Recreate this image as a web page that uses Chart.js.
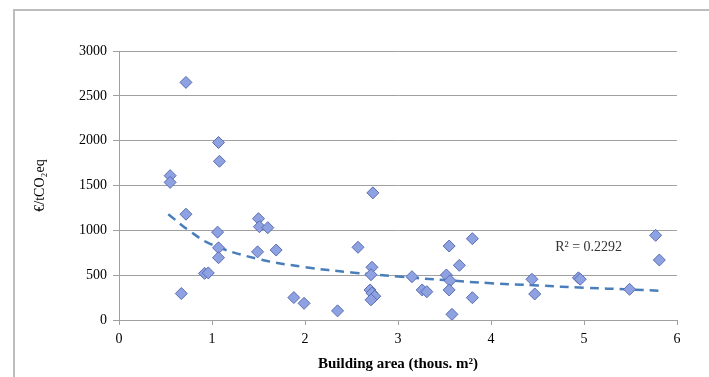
<!DOCTYPE html>
<html>
<head>
<meta charset="utf-8">
<script src="https://cdn.jsdelivr.net/npm/chart.js@4"></script>
<style>
  html, body { margin: 0; padding: 0; background: #fff; }
  #wrap { width: 709px; height: 377px; position: relative; }
</style>
</head>
<body>
<div id="wrap"><canvas id="costChart" width="709" height="377"></canvas></div>
<script>
// building area (thous. m2) vs cost (EUR / tCO2eq)
const areaX = [0.72, 1.07, 1.08, 0.55, 0.55, 0.72, 0.67, 1.06, 1.07, 1.07, 0.92, 0.96,
  1.50, 1.51, 1.60, 1.49, 1.69, 1.88, 1.99, 2.35, 2.57, 2.73, 2.72, 2.71,
  2.70, 2.72, 2.75, 2.71, 3.15, 3.26, 3.31, 3.55, 3.80, 3.66, 3.52, 3.56,
  3.55, 3.80, 3.58, 4.44, 4.47, 4.94, 4.96, 5.49, 5.77, 5.81];
const costY = [2650, 1980, 1770, 1610, 1535, 1180, 295, 980, 805, 695, 520, 525,
  1130, 1040, 1030, 760, 780, 250, 186, 102, 811, 1418, 588, 505,
  335, 300, 265, 225, 483, 335, 316, 825, 907, 610, 502, 438,
  335, 249, 63, 454, 290, 470, 455, 342, 944, 669];

// dashed trend line
const trendX = [0.53, 0.75, 1.0, 1.5, 2.0, 2.5, 3.0, 3.5, 4.0, 4.5, 5.0, 5.5, 5.8];
const trendY = [1180, 1000, 840, 680, 590, 530, 485, 445, 410, 385, 360, 340, 327];

const xTicks = [0, 1, 2, 3, 4, 5, 6];
const yTicks = [0, 500, 1000, 1500, 2000, 2500, 3000];
const r2Label = "R² = 0.2292";

const serif = "'Liberation Serif', 'Times New Roman', serif";

const framePlugin = {
  id: "frame",
  beforeDraw(chart) {
    const c = chart.ctx;
    c.save();
    c.strokeStyle = "#bdbdbd";
    c.lineWidth = 2;
    c.beginPath();
    c.moveTo(14, 377);
    c.lineTo(14, 10);
    c.lineTo(709, 10);
    c.stroke();
    c.restore();
  },
  afterDraw(chart) {
    const c = chart.ctx;
    const xs = chart.scales.x, ys = chart.scales.y;
    c.save();
    c.font = "14px " + serif;
    c.fillStyle = "#333";
    c.textBaseline = "middle";
    c.fillText(r2Label, xs.getPixelForValue(4.69), ys.getPixelForValue(815));
    c.restore();
  }
};

new Chart(document.getElementById("costChart"), {
  type: "scatter",
  data: {
    datasets: [
      {
        label: "trend",
        data: trendX.map((x, i) => ({ x, y: trendY[i] })),
        showLine: true,
        borderColor: "#4a7ebb",
        borderWidth: 2.5,
        borderDash: [9, 6],
        pointRadius: 0,
        tension: 0.4,
        order: 2
      },
      {
        label: "projects",
        data: areaX.map((x, i) => ({ x, y: costY[i] })),
        pointStyle: "rectRot",
        pointRadius: 6,
        pointBackgroundColor: "#8ea2e2",
        pointBorderColor: "#5a6cb4",
        pointBorderWidth: 1,
        order: 1
      }
    ]
  },
  options: {
    responsive: false,
    animation: false,
    layout: { padding: { top: 51, right: 32, left: 0, bottom: 0 } },
    plugins: { legend: { display: false }, tooltip: { enabled: false } },
    scales: {
      x: {
        type: "linear",
        min: 0, max: 6,
        afterBuildTicks: (s) => { s.ticks = xTicks.map(v => ({ value: v })); },
        afterFit: (s) => { s.height = 57; },
        grid: { drawOnChartArea: false, drawTicks: true, tickLength: 5, color: "#a0a0a0" },
        border: { color: "#a0a0a0", width: 1 },
        ticks: { color: "#000", font: { family: serif, size: 14 }, padding: 6,
          callback: (v) => String(v) },
        title: {
          display: true,
          text: "Building area (thous. m²)",
          color: "#000",
          font: { family: serif, size: 15, weight: "bold" },
          padding: { top: 0 }
        }
      },
      y: {
        min: 0, max: 3000,
        afterBuildTicks: (s) => { s.ticks = yTicks.map(v => ({ value: v })); },
        afterFit: (s) => { s.width = 119; },
        grid: { color: "#a0a0a0", tickLength: 6, drawTicks: true },
        border: { color: "#a0a0a0", width: 1 },
        ticks: { color: "#000", font: { family: serif, size: 14 }, padding: 6,
          callback: (v) => String(v) },
        title: {
          display: true,
          text: "€/tCO₂eq",
          color: "#000",
          font: { family: serif, size: 14 },
          padding: { top: 32, bottom: 0 }
        }
      }
    }
  },
  plugins: [framePlugin]
});
</script>
</body>
</html>
